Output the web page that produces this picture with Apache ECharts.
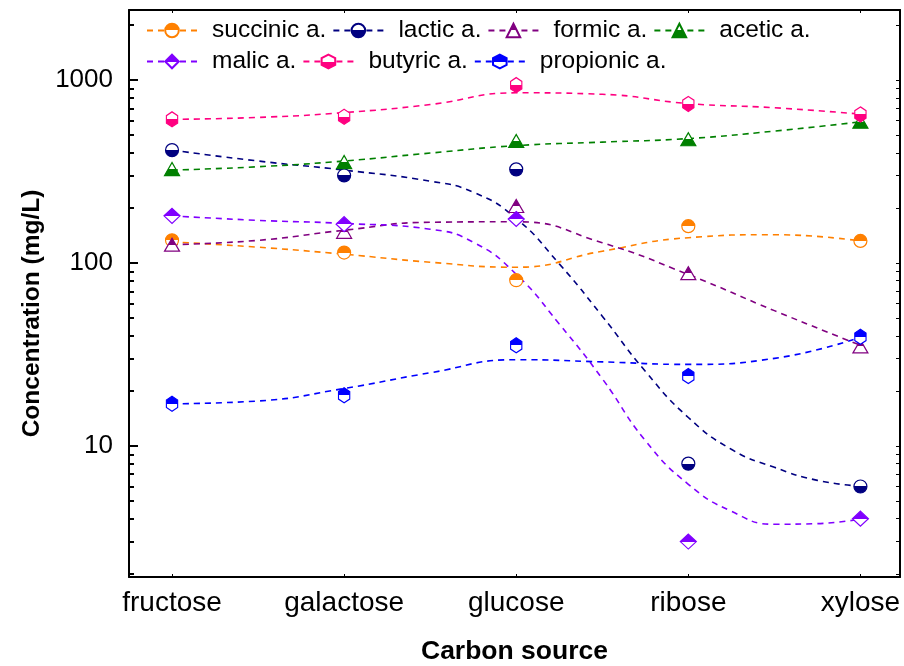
<!DOCTYPE html>
<html><head><meta charset="utf-8">
<script src="https://cdn.jsdelivr.net/npm/echarts@6/dist/echarts.min.js"></script>
<style>html,body{margin:0;padding:0;background:#fff}#c{width:904px;height:666px}</style>
</head><body><div id="c"></div><script>
// ---- data ----
const categories = ['fructose', 'galactose', 'glucose', 'ribose', 'xylose'];
const names = ['succinic a.', 'lactic a.', 'formic a.', 'acetic a.', 'malic a.', 'butyric a.', 'propionic a.'];

// measured points (mg/L) per carbon source
const succinic  = [133, 114, 80.5, 159, 132];
const lactic    = [414, 301, 325, 8.0, 6.0];
const formic    = [126, 148, 205, 88, 35];
const acetic    = [326, 356, 465, 475, 592];
const malic     = [181, 163, 174, 3.0, 4.0];
const butyric   = [610, 630, 939, 740, 649];
const propionic = [17.0, 18.9, 35.5, 24.1, 39.5];

// fitted (smoothed) dashed curves at category positions
const fitPos      = [0, 0.5, 1, 1.5, 2, 2.5, 3, 3.5, 4];
const succinicFit = [130.5, 122, 111.7, 101, 94.8, 116, 137.5, 142.8, 132];
const formicFit   = [126, 133, 151, 167, 168, 129, 86.5, 54.9, 35.5];
const aceticFit   = [322, 336, 361, 399, 438, 458, 479, 526, 591];
const butyricFit  = [610, 625, 664, 735, 852, 836, 744, 706, 652];
const propionicFit= [17.0, 17.6, 20.6, 25.1, 29.6, 28.8, 27.9, 30.1, 39.3];
const lacticPos   = [0, 0.5, 1, 1.5, 1.75, 2, 2.25, 2.5, 2.75, 3, 3.25, 3.5, 3.75, 4];
const lacticFit   = [414, 361, 322, 280, 244, 175, 98.9, 51.2, 25.6, 14.3, 9.58, 7.64, 6.48, 6.03];
const malicPos    = [0, 0.5, 1, 1.5, 1.75, 2, 2.25, 2.5, 2.75, 3, 3.25, 3.5, 3.75, 4];
const malicFit    = [181, 171, 164.5, 153, 130, 86.8, 46.4, 23.3, 10.7, 6.17, 4.39, 3.73, 3.76, 3.98];

const yMajor = [10, 100, 1000];
const yMinor = [2,3,4,5,6,7,8,9,20,30,40,50,60,70,80,90,200,300,400,500,600,700,800,900,2000];
const yMin = 1.92, yMax = 2416;

// ---- styles ----
const FONT = 'Liberation Sans, Arial, sans-serif';
const hexPath = 'path://M0,-10L8.66,-5L8.66,5L0,10L-8.66,5L-8.66,-5Z';
const specs = [
  {pts: succinic,  pos: fitPos,    fit: succinicFit,  color: '#ff8000', symbol: 'circle',   top: true,  size: 13},
  {pts: lactic,    pos: lacticPos, fit: lacticFit,    color: '#000080', symbol: 'circle',   top: false, size: 13},
  {pts: formic,    pos: fitPos,    fit: formicFit,    color: '#800080', symbol: 'triangle', top: true,  size: [15, 13]},
  {pts: acetic,    pos: fitPos,    fit: aceticFit,    color: '#008000', symbol: 'triangle', top: false, size: [15, 13]},
  {pts: malic,     pos: malicPos,  fit: malicFit,     color: '#8000ff', symbol: 'diamond',  top: true,  size: [16, 15]},
  {pts: butyric,   pos: fitPos,    fit: butyricFit,   color: '#ff0080', symbol: hexPath,    top: false, size: [13, 15]},
  {pts: propionic, pos: fitPos,    fit: propionicFit, color: '#0000ff', symbol: hexPath,    top: true,  size: [13, 15]}
];

function halfFill(c, top) {
  const stops = top
    ? [{offset: 0, color: c}, {offset: 0.5, color: c}, {offset: 0.5, color: '#fff'}, {offset: 1, color: '#fff'}]
    : [{offset: 0, color: '#fff'}, {offset: 0.5, color: '#fff'}, {offset: 0.5, color: c}, {offset: 1, color: c}];
  return new echarts.graphic.LinearGradient(0, 0, 0, 1, stops);
}

const series = [];
specs.forEach((s, i) => {
  const item = {color: halfFill(s.color, s.top), borderColor: s.color, borderWidth: 1.2};
  series.push({
    name: names[i], type: 'line', smooth: 0.5, showSymbol: false,
    symbol: s.symbol, symbolSize: s.size, symbolKeepAspect: true,
    itemStyle: item,
    lineStyle: {color: s.color, width: 1.6, type: [6, 5]},
    data: s.pos.map((p, k) => [p, s.fit[k]]),
    z: 2, silent: true
  });
});
specs.forEach((s, i) => {
  series.push({
    name: names[i], type: 'scatter',
    symbol: s.symbol, symbolSize: s.size, symbolKeepAspect: true,
    itemStyle: {color: halfFill(s.color, s.top), borderColor: s.color, borderWidth: 1.2, opacity: 1},
    data: s.pts.map((v, k) => [k, v]),
    z: 3
  });
});

const lineBlack = {show: true, onZero: false, lineStyle: {color: '#000', width: 2}};
const catIdx = categories.map((c, i) => i);

const option = {
  backgroundColor: '#fff',
  animation: false,
  grid: {left: 129, right: 4, top: 10, bottom: 89, containLabel: false, outerBoundsMode: 'none'},
  legend: {
    data: names, left: 141, top: 13, width: 700, itemGap: 6,
    itemWidth: 50, itemHeight: 17,
    textStyle: {fontSize: 24.5, color: '#000', fontFamily: FONT, lineHeight: 21, padding: [0, 0, 0, 10]}
  },
  xAxis: [
    {type: 'value', min: -0.25, max: 4.23, position: 'bottom',
     axisLine: lineBlack,
     axisTick: {show: true, inside: true, length: 3, customValues: catIdx, lineStyle: {color: '#000', width: 1}},
     axisLabel: {customValues: catIdx, formatter: v => categories[Math.round(v)] || '', fontSize: 28, color: '#000', fontFamily: FONT, margin: 12},
     splitLine: {show: false},
     name: 'Carbon source', nameLocation: 'middle', nameGap: 61,
     nameTextStyle: {fontSize: 26.5, fontWeight: 'bold', color: '#000', fontFamily: FONT}},
    {type: 'value', min: -0.25, max: 4.23, position: 'top',
     axisLine: lineBlack,
     axisTick: {show: true, inside: true, length: 3, customValues: catIdx, lineStyle: {color: '#000', width: 1}},
     axisLabel: {show: false}, splitLine: {show: false}}
  ],
  yAxis: [
    {type: 'log', logBase: 10, min: yMin, max: yMax, position: 'left',
     axisLine: lineBlack,
     axisTick: {show: true, inside: true, length: 9, customValues: yMajor, lineStyle: {color: '#000', width: 2}},
     axisLabel: {customValues: yMajor, formatter: v => String(Math.round(v)), fontSize: 26, color: '#000', fontFamily: FONT, margin: 16},
     minorTick: {show: false}, splitLine: {show: false},
     name: 'Concentration (mg/L)', nameLocation: 'middle', nameGap: 77, nameRotate: 90,
     nameTextStyle: {fontSize: 24.5, fontWeight: 'bold', color: '#000', fontFamily: FONT, padding: [0, 40, 0, 0]}},
    {type: 'log', logBase: 10, min: yMin, max: yMax, position: 'left',
     axisLine: {show: false, onZero: false},
     axisTick: {show: true, inside: true, length: 5, customValues: yMinor, lineStyle: {color: '#000', width: 2}},
     axisLabel: {show: false}, splitLine: {show: false}},
    {type: 'log', logBase: 10, min: yMin, max: yMax, position: 'right',
     axisLine: lineBlack,
     axisTick: {show: true, inside: true, length: 4, customValues: yMajor.concat(yMinor), lineStyle: {color: '#000', width: 1}},
     axisLabel: {show: false}, splitLine: {show: false}}
  ],
  series: series
};
const chart = echarts.init(document.getElementById('c'));
chart.setOption(option);
</script></body></html>
